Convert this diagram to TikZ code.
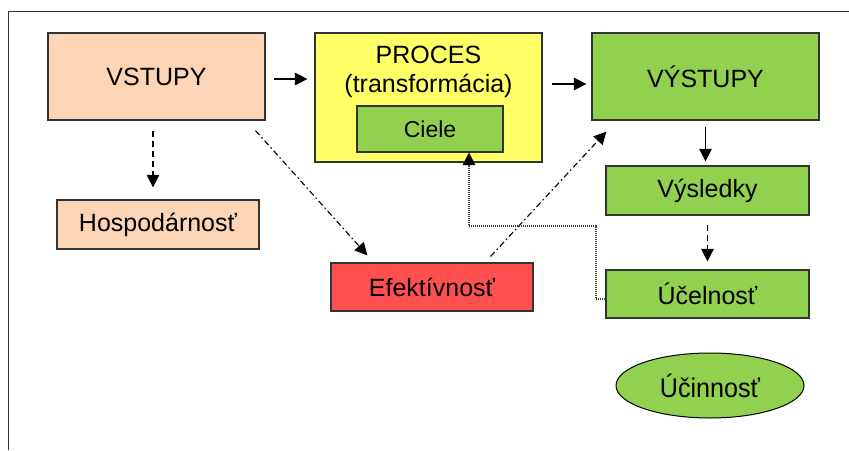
\documentclass[tikz,border=0pt]{standalone}
\usepackage{fontspec}
\setmainfont{Liberation Sans}
\newfontfamily\narrowfont[FakeStretch=0.93]{Liberation Sans}
\usetikzlibrary{arrows.meta,shapes.geometric}

\definecolor{rpeach}{HTML}{FBD5B5}
\definecolor{rkelt}{HTML}{FFFF66}
\definecolor{rvihr}{HTML}{92D050}
\definecolor{rpuna}{HTML}{FF5050}
\definecolor{rreuna}{HTML}{333333}

\begin{document}
\begin{tikzpicture}[x=1pt,y=-1pt,
  laatikko/.style={draw=rreuna,line width=1.2pt,inner sep=0pt,
    font=\fontsize{25}{29}\selectfont},
  nuoli/.style={line width=1.1pt,-{Triangle[length=12.5pt,width=12.5pt]}},
  katko/.style={nuoli,dash pattern=on 6pt off 4pt},
  pistev/.style={nuoli,dash pattern=on 6pt off 3pt on 1.5pt off 3pt},
  pisteet/.style={line width=1.2pt,draw=black!75,dash pattern=on 1pt off 1pt,
    -{Triangle[length=12.5pt,width=12.5pt,fill=black,color=black]}}]
  \useasboundingbox (0,0) rectangle (849,450);
  % kehys
  \draw[rreuna,line width=1pt] (8,450) -- (8,11) -- (849,11);

  \node[laatikko,fill=rpeach,minimum width=217pt,minimum height=87pt] (vstupy) at (156.5,76.5) {VSTUPY};
  \node[laatikko,fill=rkelt,minimum width=227pt,minimum height=129pt] (proces) at (428.5,97.5) {};
  \node[align=center,inner sep=0pt,font=\fontsize{25}{29}\selectfont] (procestxt) at (428.5,72) {PROCES\\(transformácia)};
  \node[laatikko,fill=rvihr,minimum width=146pt,minimum height=46pt,font=\fontsize{23}{27}\selectfont] (ciele) at (430,129) {Ciele};
  \node[laatikko,fill=rvihr,minimum width=227pt,minimum height=87pt] (vystupy) at (705.5,76.5) {VÝSTUPY};
  \node[laatikko,fill=rvihr,minimum width=203pt,minimum height=49pt] (vysledky) at (707.5,190.5) {Výsledky};
  \node[laatikko,fill=rvihr,minimum width=203pt,minimum height=48pt] (ucelnost) at (707.5,294) {Účelnosť};
  \node[laatikko,fill=rpeach,minimum width=202pt,minimum height=49pt] (hospodarnost) at (158,224.5) {Hospodárnosť};
  \node[laatikko,fill=rpuna,minimum width=202pt,minimum height=48pt] (efektivnost) at (432,287) {Efektívnosť};
  \node[ellipse,draw=black,line width=1pt,fill=rvihr,minimum width=188pt,minimum height=65pt,inner sep=0pt,
    font=\narrowfont\fontsize{27}{30}\selectfont] (ucinnost) at (710,385.5) {Účinnosť};

  \draw[nuoli] ([xshift=8pt,yshift=-2.5pt]vstupy.east) -- ([xshift=-7pt,yshift=-2.5pt]vstupy.east -| proces.west);
  \draw[nuoli] ([xshift=9pt,yshift=-7.5pt]vystupy.west -| proces.east) -- ([xshift=-5pt,yshift=-7.5pt]vystupy.west);
  \draw[nuoli] ([yshift=-6pt]vystupy.south) -- ([yshift=4pt]vystupy.south |- vysledky.north);
  \draw[katko] ([yshift=-9pt]vysledky.south) -- ([yshift=8pt]vysledky.south |- ucelnost.north);
  \draw[katko] ([xshift=-3.5pt,yshift=-10pt]vstupy.south) -- ([xshift=-5pt,yshift=12pt]hospodarnost.north);
  \draw[pistev] ([xshift=-10pt,yshift=-10pt]vstupy.south east) -- ([xshift=37pt,yshift=7pt]efektivnost.north west);
  \draw[pistev] ([xshift=-43pt,yshift=6pt]efektivnost.north east) -- ([xshift=15pt,yshift=-11pt]vystupy.south west);
  \coordinate (mutka) at (596,226);
  \draw[pisteet] ([yshift=-5pt]ucelnost.west) -| (mutka) -| ([xshift=39pt]ciele.south);
\end{tikzpicture}
\end{document}
